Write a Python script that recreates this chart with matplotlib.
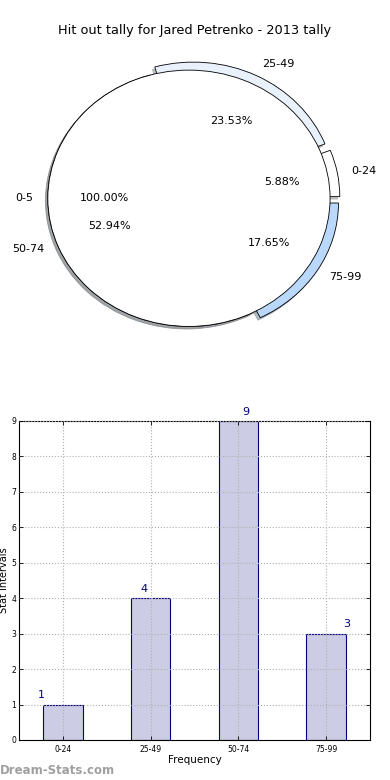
import matplotlib
matplotlib.use('Agg')
import matplotlib.pyplot as plt

# dados
categorias = ['0-24', '25-49', '50-74', '75-99']
valores = [1, 4, 9, 3]
cores_pizza = ['#ffffff', '#e9f1fd', '#cfe2f8', '#b9d8fc']
explodir = [0.07, 0.07, 0.0, 0.07]
rotulo_extra = ['0-5']
valor_extra = [1]

fig = plt.figure(figsize=(3.9, 7.8), dpi=100)
fig.text(0.5, 0.961, 'Hit out tally for Jared Petrenko - 2013 tally',
         ha='center', va='center', fontsize=9.3)

# pizza
sombra = {'ox': -0.012, 'oy': -0.014, 'shade': 0.45, 'label': '_nolegend_'}
ax1 = fig.add_axes([-0.004, 0.524, 0.977, 0.4436])
ax1.pie(valores, labels=categorias, colors=cores_pizza, explode=explodir,
        autopct='%.2f%%', shadow=sombra, startangle=0,
        wedgeprops={'edgecolor': 'black', 'linewidth': 0.6},
        textprops={'fontsize': 8})
ax1.pie(valor_extra, labels=rotulo_extra, colors=['white'], autopct='%.2f%%',
        shadow=sombra, startangle=0,
        wedgeprops={'edgecolor': 'black', 'linewidth': 0.6},
        textprops={'fontsize': 8})
ax1.set_aspect('auto')
ax1.set_xlim(-1.35, 1.35)
ax1.set_ylim(-1.35, 1.35)
ax1.axis('off')

# barras
ax2 = fig.add_axes([0.0487, 0.0513, 0.9, 0.409])
pos = range(len(valores))
ax2.bar(pos, valores, width=0.45, color='#ccccE4', edgecolor='navy', linewidth=0.8,
        zorder=2)
for i, v in zip(pos, valores):
    ax2.text(i + (i - 1.5) * 0.16, v + 0.12, str(v), ha='center', va='bottom',
             color='navy', fontsize=8)
ax2.set_xlim(-0.5, 3.5)
ax2.set_ylim(0, 9)
ax2.set_xticks(list(pos))
ax2.set_xticklabels(categorias)
ax2.set_yticks(range(10))
ax2.tick_params(direction='in', labelsize=5.5, length=3, width=0.6,
                top=True, right=True)
ax2.tick_params(axis='y', pad=2)
ax2.grid(True, linestyle=':', color='#b0b0b0', linewidth=0.8, zorder=3)
ax2.set_axisbelow(False)
ax2.set_xlabel('Frequency', fontsize=7.5, labelpad=1)
ax2.set_ylabel('Stat Intervals', fontsize=7)
ax2.yaxis.set_label_coords(-0.028, 0.5)
for s in ax2.spines.values():
    s.set_linewidth(0.8)

fig.text(0.0, 0.012, 'Dream-Stats.com', color='#a0a0a0', fontsize=8.5,
         fontweight='bold', ha='left', va='center')

plt.savefig('out.png', dpi=100, facecolor='white')
plt.close()
